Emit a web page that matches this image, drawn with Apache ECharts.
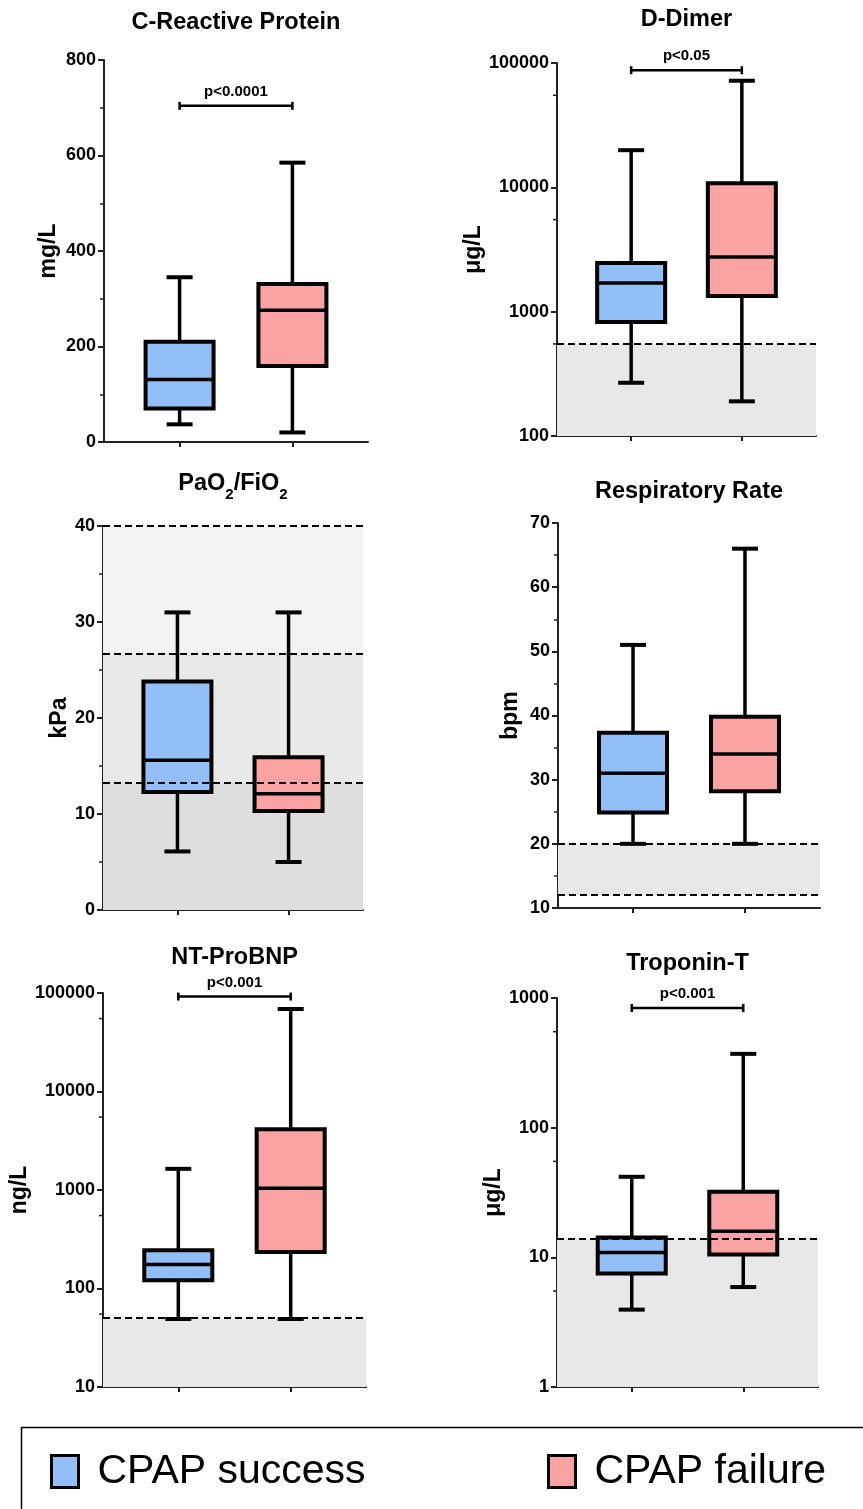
<!DOCTYPE html>
<html>
<head>
<meta charset="utf-8">
<title>CPAP success vs CPAP failure</title>
<script src="https://cdn.jsdelivr.net/npm/echarts@6/dist/echarts.min.js"></script>
<style>
  html, body { margin: 0; padding: 0; background: #fff; }
  #chart { width: 863px; height: 1509px; }
</style>
</head>
<body>
<div id="chart"></div>
<script>
  var groups = ['CPAP success', 'CPAP failure'];

  // [min, Q1, median, Q3, max] for each panel
  var crpSuccess = [37, 70, 131, 210, 345];
  var crpFailure = [20, 159, 276, 331, 585];
  var ddimerSuccess = [268, 824, 1700, 2460, 19900];
  var ddimerFailure = [190, 1336, 2750, 10800, 72000];
  var pfSuccess = [6.1, 12.3, 15.6, 23.8, 31];
  var pfFailure = [5.0, 10.3, 12.1, 15.9, 31];
  var rrSuccess = [20, 24.9, 31, 37.3, 51];
  var rrFailure = [20, 28.2, 34, 39.8, 66];
  var bnpSuccess = [49, 121, 175, 245, 1640];
  var bnpFailure = [49, 235, 1040, 4140, 68800];
  var tropSuccess = [3.95, 7.5, 10.9, 14.2, 41.8];
  var tropFailure = [5.9, 10.5, 15.9, 32, 371];

  // reference limits (dashed) and shaded normal ranges
  var ddimerLimits = [550];
  var ddimerBands = [[100, 550]];
  var pfLimits = [13.3, 26.7, 40];
  var pfBands = [[0, 13.3], [13.3, 26.7], [26.7, 40]];
  var rrLimits = [12, 20];
  var rrBands = [[12, 20]];
  var bnpLimits = [50];
  var bnpBands = [[10, 50]];
  var tropLimits = [14];
  var tropBands = [[1, 14]];

  // minor ticks on the log axes
  var ddimerMinor = [550, 5500, 55000];
  var bnpMinor = [55, 550, 5500, 55000];
  var tropMinor = [5.5, 55, 550];

  // significance brackets
  var crpSig = [704, 'p<0.0001'];
  var ddimerSig = [87500, 'p<0.05'];
  var bnpSig = [92000, 'p<0.001'];
  var tropSig = [837, 'p<0.001'];

  var FONT = '"Liberation Sans", Arial, Helvetica, sans-serif';
  var BLUE = '#92bff8';
  var PINK = '#f9a3a3';
  var BAND = '#e8e8e8';
  var BOX_W = 68, CAP_W = 26;

  var panels = [
    { title: 'C-Reactive Protein', unit: 'mg/L', log: false, min: 0, max: 800, interval: 200,
      s: crpSuccess, f: crpFailure, limits: [], bands: [], bandColors: [], minor: null, sig: crpSig,
      rect: [104, 60, 264, 382], nameGap: 44, titleTop: 11 },
    { title: 'D-Dimer', unit: 'μg/L', log: true, min: 100, max: 100000,
      s: ddimerSuccess, f: ddimerFailure, limits: ddimerLimits, bands: ddimerBands, bandColors: [BAND], minor: ddimerMinor, sig: ddimerSig,
      rect: [557, 63, 259, 373], nameGap: 72, titleTop: 8 },
    { title: '{a|PaO}{b|2}{a|/FiO}{b|2}', unit: 'kPa', log: false, min: 0, max: 40, interval: 10,
      s: pfSuccess, f: pfFailure, limits: pfLimits, bands: pfBands, bandColors: ['#dedede', '#e9e9e9', '#f3f3f3'], minor: null, sig: null,
      rect: [103, 526, 260, 384], nameGap: 31, titleTop: 472 },
    { title: 'Respiratory Rate', unit: 'bpm', log: false, min: 10, max: 70, interval: 10,
      s: rrSuccess, f: rrFailure, limits: rrLimits, bands: rrBands, bandColors: [BAND], minor: null, sig: null,
      rect: [558, 523, 262, 385], nameGap: 36, titleTop: 480 },
    { title: 'NT-ProBNP', unit: 'ng/L', log: true, min: 10, max: 100000,
      s: bnpSuccess, f: bnpFailure, limits: bnpLimits, bands: bnpBands, bandColors: [BAND], minor: bnpMinor, sig: bnpSig,
      rect: [103, 993, 263, 394], nameGap: 69, titleTop: 946 },
    { title: 'Troponin-T', unit: 'μg/L', log: true, min: 1, max: 1000,
      s: tropSuccess, f: tropFailure, limits: tropLimits, bands: tropBands, bandColors: [BAND], minor: tropMinor, sig: tropSig,
      rect: [557, 998, 261, 389], nameGap: 50, titleTop: 952 }
  ];

  function renderBox(params, api) {
    var x = api.value(0);
    var p = [1, 2, 3, 4, 5].map(function (d) { return api.coord([x, api.value(d)]); });
    var cx = p[0][0];
    var yMin = p[0][1], yQ1 = p[1][1], yMed = p[2][1], yQ3 = p[3][1], yMax = p[4][1];
    var hb = BOX_W / 2, hc = CAP_W / 2;
    return {
      type: 'group',
      children: [
        { type: 'line', shape: { x1: cx, y1: yMax, x2: cx, y2: yQ3 }, style: { stroke: '#000', lineWidth: 3.5 } },
        { type: 'line', shape: { x1: cx, y1: yQ1, x2: cx, y2: yMin }, style: { stroke: '#000', lineWidth: 3.5 } },
        { type: 'line', shape: { x1: cx - hc, y1: yMax, x2: cx + hc, y2: yMax }, style: { stroke: '#000', lineWidth: 4 } },
        { type: 'line', shape: { x1: cx - hc, y1: yMin, x2: cx + hc, y2: yMin }, style: { stroke: '#000', lineWidth: 4 } },
        { type: 'rect', shape: { x: cx - hb, y: yQ3, width: BOX_W, height: yQ1 - yQ3 },
          style: { fill: api.visual('color'), stroke: '#000', lineWidth: 4 } },
        { type: 'line', shape: { x1: cx - hb, y1: yMed, x2: cx + hb, y2: yMed }, style: { stroke: '#000', lineWidth: 3.5 } }
      ]
    };
  }

  function sigRenderer(text) {
    return function (params, api) {
      var a = api.coord([api.value(0), api.value(2)]);
      var b = api.coord([api.value(1), api.value(2)]);
      var y = a[1];
      return {
        type: 'group',
        children: [
          { type: 'line', shape: { x1: a[0], y1: y, x2: b[0], y2: y }, style: { stroke: '#000', lineWidth: 2.5 } },
          { type: 'line', shape: { x1: a[0], y1: y - 4, x2: a[0], y2: y + 4 }, style: { stroke: '#000', lineWidth: 2.5 } },
          { type: 'line', shape: { x1: b[0], y1: y - 4, x2: b[0], y2: y + 4 }, style: { stroke: '#000', lineWidth: 2.5 } },
          { type: 'text', x: (a[0] + b[0]) / 2, y: y - 14,
            style: { text: text, fill: '#000', font: 'bold 15px ' + FONT, align: 'center', verticalAlign: 'middle' } }
        ]
      };
    };
  }

  function renderMinorTick(params, api) {
    var y = api.coord([1, api.value(1)])[1];
    var x0 = params.coordSys.x;
    return { type: 'line', shape: { x1: x0 - 4, y1: y, x2: x0, y2: y }, style: { stroke: '#222', lineWidth: 1.5 } };
  }

  var grids = [], xAxes = [], yAxes = [], series = [], titles = [];

  panels.forEach(function (p, i) {
    grids.push({ left: p.rect[0], top: p.rect[1], width: p.rect[2], height: p.rect[3], containLabel: false });

    titles.push({
      text: p.title,
      left: p.rect[0] + p.rect[2] / 2,
      top: p.titleTop,
      textAlign: 'center',
      padding: 0,
      textStyle: {
        fontFamily: FONT, fontSize: 23.5, fontWeight: 'bold', color: '#000',
        rich: {
          a: { fontFamily: FONT, fontSize: 23.5, fontWeight: 'bold', color: '#000', lineHeight: 30, verticalAlign: 'top' },
          b: { fontFamily: FONT, fontSize: 15, fontWeight: 'bold', color: '#000', lineHeight: 15, verticalAlign: 'bottom' }
        }
      }
    });

    xAxes.push({
      type: 'value', gridIndex: i, min: 0.33, max: 2.67,
      axisLine: { show: true, onZero: false, lineStyle: { color: '#222', width: 2 } },
      axisTick: { show: true, customValues: [1, 2], length: 5, lineStyle: { color: '#222', width: 2 } },
      axisLabel: { show: false },
      splitLine: { show: false }
    });

    var y = {
      type: p.log ? 'log' : 'value', gridIndex: i, min: p.min, max: p.max,
      name: p.unit, nameLocation: 'middle', nameRotate: 90, nameGap: p.nameGap,
      nameTextStyle: { fontFamily: FONT, fontSize: 23, fontWeight: 'bold', color: '#000' },
      axisLine: { show: true, lineStyle: { color: '#222', width: 2 } },
      axisTick: { show: true, length: 6, lineStyle: { color: '#222', width: 2 } },
      axisLabel: {
        fontFamily: FONT, fontSize: 18, fontWeight: 'bold', color: '#000', margin: 8,
        formatter: function (v) { return String(Math.round(v)); }
      },
      splitLine: { show: false }
    };
    if (p.log) {
      y.logBase = 10;
    } else {
      y.interval = p.interval;
      y.minorTick = { show: true, splitNumber: 2, length: 4, lineStyle: { color: '#222', width: 1.5 } };
      y.minorSplitLine = { show: false };
    }
    yAxes.push(y);

    // shaded ranges and dashed limits, drawn behind the boxes
    series.push({
      type: 'line', xAxisIndex: i, yAxisIndex: i, data: [], silent: true, z: 1,
      markArea: {
        silent: true,
        data: p.bands.map(function (b, k) {
          return [{ yAxis: b[0], itemStyle: { color: p.bandColors[k] } }, { yAxis: b[1] }];
        })
      },
      markLine: {
        silent: true, symbol: 'none', label: { show: false },
        lineStyle: { color: '#000', type: [7, 4], width: 2 },
        data: p.limits.map(function (v) { return { yAxis: v }; })
      }
    });

    series.push({
      type: 'custom', name: groups[0], xAxisIndex: i, yAxisIndex: i, z: 3,
      itemStyle: { color: BLUE }, renderItem: renderBox,
      encode: { x: 0, y: [1, 2, 3, 4, 5] },
      data: [[1].concat(p.s)]
    });
    series.push({
      type: 'custom', name: groups[1], xAxisIndex: i, yAxisIndex: i, z: 3,
      itemStyle: { color: PINK }, renderItem: renderBox,
      encode: { x: 0, y: [1, 2, 3, 4, 5] },
      data: [[2].concat(p.f)]
    });

    if (p.sig) {
      series.push({
        type: 'custom', xAxisIndex: i, yAxisIndex: i, z: 4, silent: true,
        renderItem: sigRenderer(p.sig[1]),
        encode: { x: [0, 1], y: 2 },
        data: [[1, 2, p.sig[0]]]
      });
    }
    if (p.minor) {
      series.push({
        type: 'custom', xAxisIndex: i, yAxisIndex: i, z: 4, silent: true,
        renderItem: renderMinorTick,
        encode: { x: 0, y: 1 },
        data: p.minor.map(function (v) { return [1, v]; })
      });
    }
  });

  function legendFor(name, left) {
    return {
      data: [name], left: left, top: 1451, orient: 'horizontal',
      icon: 'rect', itemWidth: 27, itemHeight: 32, selectedMode: false, padding: 0,
      itemStyle: { borderColor: '#000', borderWidth: 3 },
      textStyle: { fontFamily: FONT, fontSize: 41, color: '#000', padding: [0, 0, 0, 14] }
    };
  }

  var chart = echarts.init(document.getElementById('chart'));
  chart.setOption({
    animation: false,
    backgroundColor: '#fff',
    title: titles,
    grid: grids,
    xAxis: xAxes,
    yAxis: yAxes,
    legend: [legendFor(groups[0], 50), legendFor(groups[1], 547)],
    graphic: [{
      type: 'rect', left: 19, top: 1425, silent: true, z: -1,
      shape: { width: 843, height: 120 },
      style: { fill: 'none', stroke: '#000', lineWidth: 1.5 }
    }],
    series: series
  });
</script>
</body>
</html>
